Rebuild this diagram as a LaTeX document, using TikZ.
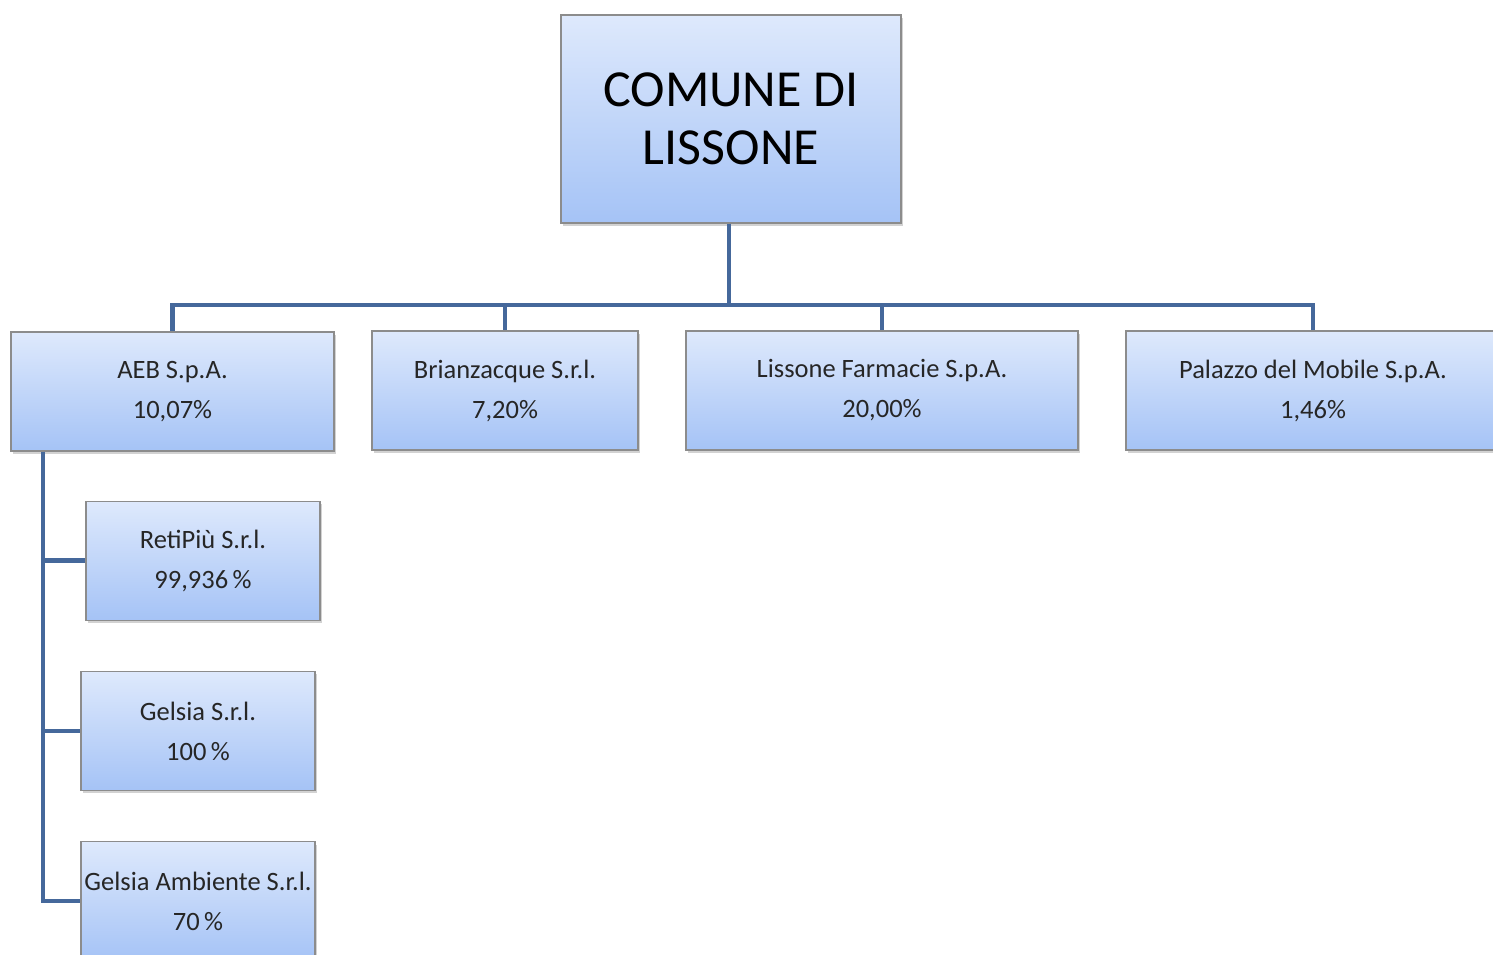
\documentclass[tikz,border=0pt]{standalone}
\usepackage{fontspec}
\setmainfont{Carlito}
\usepackage{tikz}
\usetikzlibrary{positioning, shadows}
\definecolor{boxtop}{RGB}{222,233,252}
\definecolor{boxbot}{RGB}{165,195,246}
\definecolor{boxline}{RGB}{140,140,140}
\definecolor{linkblue}{RGB}{69,104,155}

\begin{document}
\begin{tikzpicture}[x=1pt, y=-1pt,
  org node/.style={rectangle, draw=boxline, line width=1.2pt, top color=boxtop, bottom color=boxbot,
    align=center, inner sep=0pt, minimum height=119pt, text=black!85,
    font=\fontsize{26.5}{40}\selectfont,
    drop shadow={shadow xshift=2pt, shadow yshift=-3pt, opacity=0.35}},
  top node/.style={org node, minimum width=340pt, minimum height=208pt, text=black,
    font=\fontsize{52}{58}\selectfont},
  link/.style={draw=linkblue, line width=4.5pt}]

\clip (0,0) rectangle (1493,954);
\fill[white] (0,0) rectangle (1493,954);

\node[top node] (COM) at (731,119) {COMUNE DI\\LISSONE};

\node[org node, minimum width=323pt] (AEB) at (172.5,391.5) {AEB S.p.A.\\10,07\%};
\node[org node, minimum width=266pt] (BRI) at (505,390.5) {Brianzacque S.r.l.\\7,20\%};
\node[org node, minimum width=392pt] (LIS) at (882,390.5) {Lissone Farmacie S.p.A.\\20,00\%};
\node[org node, minimum width=374pt] (PAL) at (1313,390.5) {Palazzo del Mobile S.p.A.\\1,46\%};

\node[org node, minimum width=234pt] (RP) [below=49pt of AEB, xshift=30.5pt] {RetiPiù S.r.l.\\99,936\,\%};
\node[org node, minimum width=234pt] (GE) [below=50pt of RP, xshift=-5pt] {Gelsia S.r.l.\\100\,\%};
\node[org node, minimum width=234pt] (GA) [below=50pt of GE] {Gelsia Ambiente S.r.l.\\70\,\%};

\coordinate (bus) at (729,305);
\coordinate (spine) at (43,0);

\path[link]
(COM.south -| bus) edge (bus)
;
\draw[link] (bus) -| (AEB);
\draw[link] (bus) -| (BRI);
\draw[link] (bus) -| (LIS);
\draw[link] (bus) -| (PAL);

\draw[link] (AEB.south -| spine) |- (GA.west);
\draw[link] (RP.west -| spine) -- (RP.west);
\draw[link] (GE.west -| spine) -- (GE.west);
\end{tikzpicture}
\end{document}
